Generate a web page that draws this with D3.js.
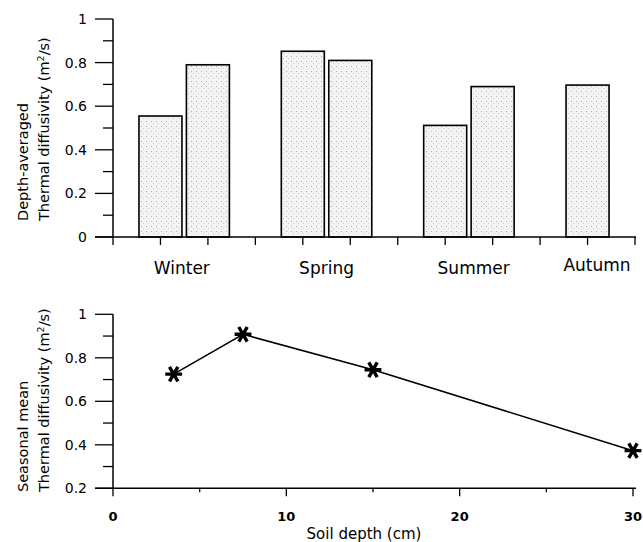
<!DOCTYPE html>
<html>
<head>
<meta charset="utf-8">
<script src="https://cdn.jsdelivr.net/npm/d3@7"></script>
<style>
  body { margin: 0; background: #fff; }
  text { font-family: "DejaVu Sans", sans-serif; fill: #000; }
</style>
</head>
<body>
<div id="chart"></div>
<script>
// bar panel data
const barSlots = [1, 2, 4, 5, 7, 8, 10];
const barValues = [0.555, 0.79, 0.852, 0.81, 0.512, 0.69, 0.697];
const seasons = ["Winter", "Spring", "Summer", "Autumn"];
const seasonSlots = [1.45, 4.5, 7.6, 10.2];
const barTicks = [0, 0.2, 0.4, 0.6, 0.8, 1];

// line panel data
const depths = [3.5, 7.5, 15, 30];
const meanDiff = [0.725, 0.908, 0.745, 0.373];
const lineYTicks = [0.2, 0.4, 0.6, 0.8, 1];
const depthTicks = [0, 10, 20, 30];

var svg = d3.select("#chart").append("svg")
  .attr("width", 643).attr("height", 542);

// stipple fill for the bars
var pat = svg.append("defs").append("pattern")
  .attr("id", "stip").attr("width", 5).attr("height", 5)
  .attr("patternUnits", "userSpaceOnUse");
pat.append("rect").attr("width", 5).attr("height", 5).attr("fill", "#f3f3f3");
pat.append("rect").attr("x", 1).attr("y", 1).attr("width", 1).attr("height", 1).attr("fill", "#b0b0b0");
pat.append("rect").attr("x", 3).attr("y", 3).attr("width", 1).attr("height", 1).attr("fill", "#d0d0d0");

// y title helper (two rotated lines, start-anchored)
function yTitle(first, yStart) {
  var t = svg.append("text")
    .attr("transform", "translate(0," + yStart + ") rotate(-90)")
    .attr("text-anchor", "start")
    .style("font-size", "14.5px");
  t.append("tspan").attr("x", 0).attr("y", 28).text(first);
  t.append("tspan").attr("x", 0).attr("y", 49).text("Thermal diffusivity (m");
  t.append("tspan").attr("dy", -5).style("font-size", "9.5px").text("2");
  t.append("tspan").attr("dy", 5).text("/s)");
}

// ---------- top: bar chart ----------
var xb = d3.scaleLinear().domain([0, 11]).range([113, 635]);
var yb = d3.scaleLinear().domain([0, 1]).range([237, 19]);

svg.selectAll("rect.bar")
  .data(barValues)
  .enter()
  .append("rect")
  .attr("class", "bar")
  .attr("x", function (d, i) { return xb(barSlots[i]) - 21.5; })
  .attr("width", 43)
  .attr("y", function (d) { return yb(d); })
  .attr("height", function (d) { return yb(0) - yb(d); })
  .attr("fill", "url(#stip)")
  .attr("stroke", "#000")
  .attr("stroke-width", 1.6);

// y axis with minor ticks
var gyb = svg.append("g").attr("transform", "translate(113,0)");
gyb.append("line").attr("y1", yb(1)).attr("y2", yb(0)).attr("stroke", "#000").attr("stroke-width", 1.5);
gyb.selectAll("line.mt")
  .data(d3.range(0, 1.01, 0.1))
  .enter().append("line")
  .attr("x1", function (d, i) { return i % 2 === 0 ? -18 : -10; })
  .attr("x2", 0)
  .attr("y1", function (d) { return yb(d); })
  .attr("y2", function (d) { return yb(d); })
  .attr("stroke", "#000").attr("stroke-width", 1.3);
gyb.selectAll("text")
  .data(barTicks)
  .enter().append("text")
  .attr("x", -26).attr("y", function (d) { return yb(d); })
  .attr("dy", "0.36em").attr("text-anchor", "end")
  .style("font-size", "14px")
  .text(function (d) { return d === 0 || d === 1 ? d : d.toFixed(1); });

// x axis
var gxb = svg.append("g");
gxb.append("line").attr("x1", 95).attr("x2", 636).attr("y1", yb(0)).attr("y2", yb(0))
  .attr("stroke", "#000").attr("stroke-width", 1.5);
gxb.selectAll("line.t")
  .data(d3.range(0, 12))
  .enter().append("line")
  .attr("x1", function (d) { return xb(d); })
  .attr("x2", function (d) { return xb(d); })
  .attr("y1", yb(0)).attr("y2", yb(0) + 8)
  .attr("stroke", "#000").attr("stroke-width", 1.3);
gxb.selectAll("text")
  .data(seasons)
  .enter().append("text")
  .attr("x", function (d, i) { return xb(seasonSlots[i]); })
  .attr("y", function (d, i) { return i === 3 ? 271 : 274; })
  .attr("text-anchor", "middle")
  .style("font-size", "17px")
  .text(function (d) { return d; });

yTitle("Depth-averaged", 221);

// ---------- bottom: line chart ----------
var xl = d3.scaleLinear().domain([0, 30]).range([113, 633]);
var yl = d3.scaleLinear().domain([0.2, 1]).range([488.3, 314.3]);

var gyl = svg.append("g").attr("transform", "translate(113,0)");
gyl.append("line").attr("y1", yl(1)).attr("y2", yl(0.2)).attr("stroke", "#000").attr("stroke-width", 1.5);
gyl.selectAll("line.mt")
  .data(d3.range(0.2, 1.01, 0.1))
  .enter().append("line")
  .attr("x1", function (d, i) { return i % 2 === 0 ? -18 : -10; })
  .attr("x2", 0)
  .attr("y1", function (d) { return yl(d); })
  .attr("y2", function (d) { return yl(d); })
  .attr("stroke", "#000").attr("stroke-width", 1.3);
gyl.selectAll("text")
  .data(lineYTicks)
  .enter().append("text")
  .attr("x", -26).attr("y", function (d) { return yl(d); })
  .attr("dy", "0.36em").attr("text-anchor", "end")
  .style("font-size", "14px")
  .text(function (d) { return d === 1 ? d : d.toFixed(1); });

var gxl = svg.append("g");
gxl.append("line").attr("x1", 95).attr("x2", 636).attr("y1", yl(0.2)).attr("y2", yl(0.2))
  .attr("stroke", "#000").attr("stroke-width", 1.5);
gxl.selectAll("line.t")
  .data(d3.range(0, 31, 5))
  .enter().append("line")
  .attr("x1", function (d) { return xl(d); })
  .attr("x2", function (d) { return xl(d); })
  .attr("y1", yl(0.2))
  .attr("y2", function (d) { return yl(0.2) + (d % 10 === 0 ? 8 : 4); })
  .attr("stroke", "#000").attr("stroke-width", 1.3);
gxl.selectAll("text")
  .data(depthTicks)
  .enter().append("text")
  .attr("x", function (d) { return xl(d); })
  .attr("y", 521)
  .attr("text-anchor", "middle")
  .style("font-size", "13px").style("font-weight", "bold")
  .text(function (d) { return d; });

svg.append("text")
  .attr("x", 364).attr("y", 539)
  .attr("text-anchor", "middle")
  .style("font-size", "15px")
  .text("Soil depth (cm)");

yTitle("Seasonal mean", 492);

// line + asterisk markers
var line = d3.line()
  .x(function (d, i) { return xl(depths[i]); })
  .y(function (d) { return yl(d); });
svg.append("path")
  .datum(meanDiff)
  .attr("d", line)
  .attr("fill", "none").attr("stroke", "#000").attr("stroke-width", 1.6);

var star = d3.symbol().type(d3.symbolAsterisk).size(200);
svg.selectAll("path.star")
  .data(meanDiff)
  .enter().append("path")
  .attr("class", "star")
  .attr("d", star)
  .attr("transform", function (d, i) {
    return "translate(" + xl(depths[i]) + "," + yl(d) + ") rotate(30)";
  })
  .attr("fill", "none").attr("stroke", "#000").attr("stroke-width", 3.4);
</script>
</body>
</html>
